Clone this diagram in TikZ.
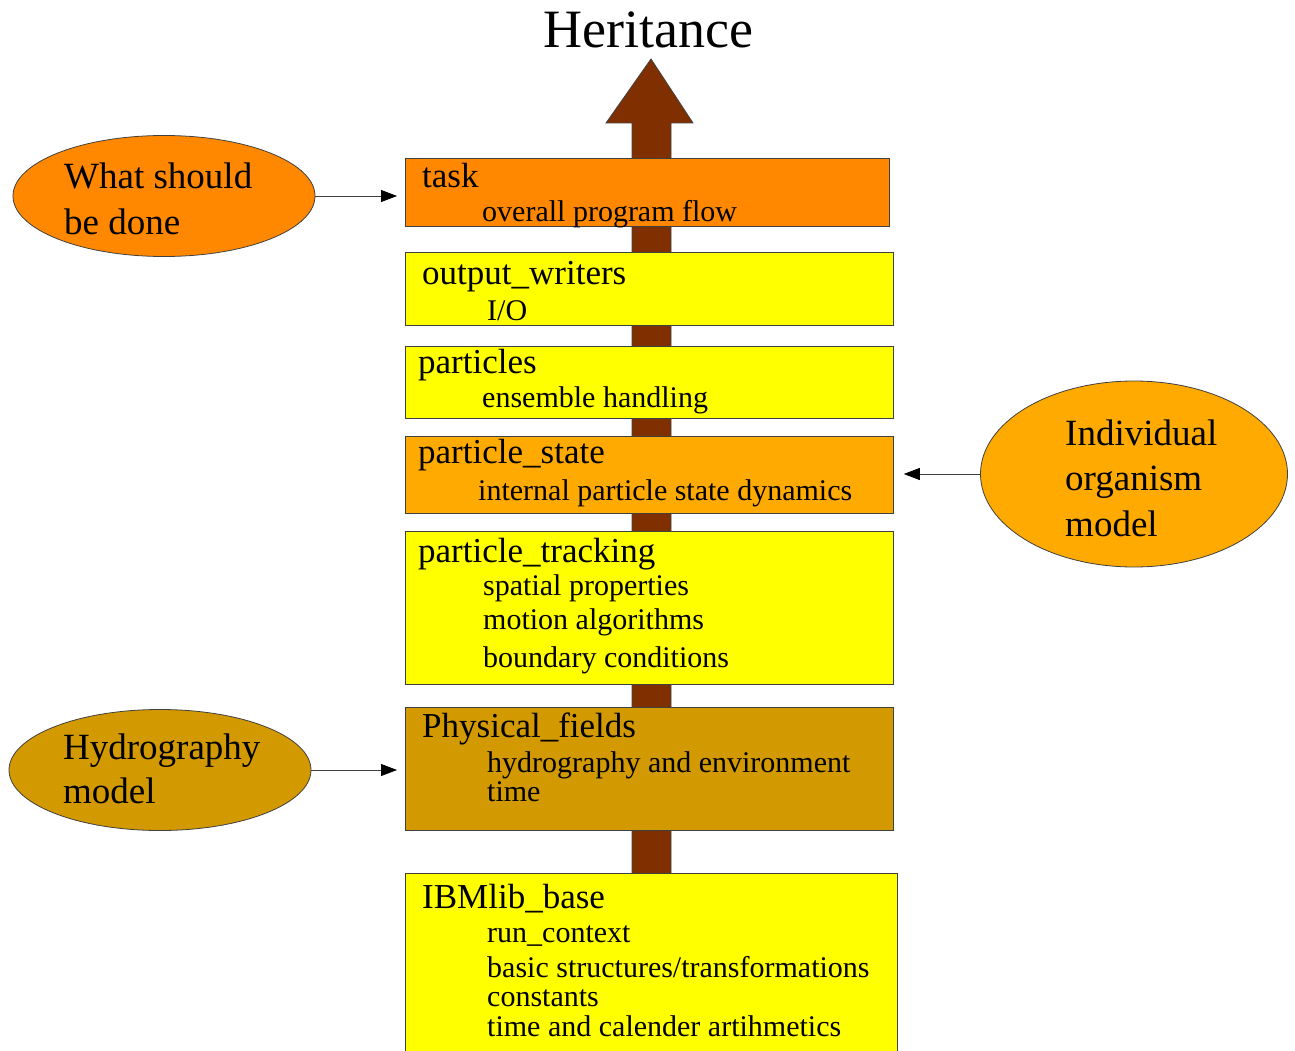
\documentclass[tikz,border=0pt]{standalone}
\usepackage{fontspec}
\setmainfont{Liberation Serif}
\usetikzlibrary{calc,positioning,shapes.geometric,arrows.meta}
\definecolor{taskorange}{HTML}{FF8800}
\definecolor{stateorange}{HTML}{FFAA00}
\definecolor{fieldgold}{HTML}{D29900}
\definecolor{shaftbrown}{HTML}{803000}
\definecolor{modyellow}{HTML}{FFFF00}

\begin{document}
\begin{tikzpicture}[x=1pt,y=-1pt,
    modul/.style={draw=black!75, line width=0.8pt, anchor=north west, inner sep=0pt},
    judul/.style={anchor=base west, inner sep=0pt, font=\fontsize{35}{40}\selectfont},
    isi/.style={anchor=base west, inner sep=0pt, font=\fontsize{30}{34}\selectfont},
    model/.style={ellipse, draw=black!75, line width=0.8pt, inner sep=0pt},
    teks/.style={anchor=base west, inner sep=0pt, font=\fontsize{37}{42}\selectfont},
    panah/.style={draw=black!75, line width=0.8pt, -{Triangle[length=16pt,width=12pt,color=black]}}]
    \useasboundingbox (0,0) rectangle (1295,1051);

    % big arrow behind the modules
    \filldraw[fill=shaftbrown, draw=black!75, line width=0.8pt]
        (632,880) -- (632,123) -- (606,123) -- (651,59) -- (693,123) -- (671,123) -- (671,880) -- cycle;
    \node[anchor=base, inner sep=0pt, font=\fontsize{54}{60}\selectfont] (H) at (648,48) {Heritance};

    % the modules
    \node[modul, fill=taskorange, minimum width=484pt, minimum height=68pt] (task) at (405,158) {};
    \node[judul] (task-j) at (422,188) {task};
    \node[isi]   (task-i) at (482,222) {overall program flow};

    \node[modul, fill=modyellow, minimum width=488pt, minimum height=73pt] (out) at (405,252) {};
    \node[judul] (out-j) at (422,284) {output\_writers};
    \node[isi]   (out-i) at (487,320) {I/O};

    \node[modul, fill=modyellow, minimum width=488pt, minimum height=72pt] (part) at (405,346) {};
    \node[judul] (part-j) at (418,373) {particles};
    \node[isi]   (part-i) at (482,407) {ensemble handling};

    \node[modul, fill=stateorange, minimum width=488pt, minimum height=77pt] (state) at (405,436) {};
    \node[judul] (state-j) at (418,463) {particle\_state};
    \node[isi]   (state-i) at (478,500) {internal particle state dynamics};

    \node[modul, fill=modyellow, minimum width=488pt, minimum height=153pt] (track) at (405,531) {};
    \node[judul] (track-j) at (418,562) {particle\_tracking};
    \node[isi]   (track-a) at (483,595) {spatial properties};
    \node[isi]   (track-b) at (483,629) {motion algorithms};
    \node[isi]   (track-c) at (483,667) {boundary conditions};

    \node[modul, fill=fieldgold, minimum width=488pt, minimum height=123pt] (fields) at (405,707) {};
    \node[judul] (fields-j) at (422,737) {Physical\_fields};
    \node[isi]   (fields-a) at (487,772) {hydrography and environment};
    \node[isi]   (fields-b) at (487,801) {time};

    \node[modul, fill=modyellow, minimum width=492pt, minimum height=190pt] (base) at (405,873) {};
    \node[judul] (base-j) at (422,908) {IBMlib\_base};
    \node[isi]   (base-a) at (487,942) {run\_context};
    \node[isi]   (base-b) at (487,977) {basic structures/transformations};
    \node[isi]   (base-c) at (487,1006) {constants};
    \node[isi]   (base-d) at (487,1036) {time and calender artihmetics};

    % the outside models
    \node[model, fill=taskorange, minimum width=302pt, minimum height=121pt] (what) at (164,196) {};
    \node[teks] (what-a) at (64,189) {What should};
    \node[teks] (what-b) at (64,234) {be done};

    \node[model, fill=stateorange, minimum width=307pt, minimum height=186pt] (indiv) at (1134,474) {};
    \node[teks] (indiv-a) at (1065,445) {Individual};
    \node[teks] (indiv-b) at (1065,490) {organism};
    \node[teks] (indiv-c) at (1065,536) {model};

    \node[model, fill=fieldgold, minimum width=302pt, minimum height=121pt] (hydro) at (160,770) {};
    \node[teks] (hydro-a) at (63,759) {Hydrography};
    \node[teks] (hydro-b) at (63,803) {model};

    % connectors
    \draw[panah, shorten >=8pt]  (what.east)  -- (what.east -| task.west);
    \draw[panah, shorten >=10pt] (indiv.west) -- (indiv.west -| state.east);
    \draw[panah, shorten >=8pt]  (hydro.east) -- (hydro.east -| fields.west);
\end{tikzpicture}
\end{document}
